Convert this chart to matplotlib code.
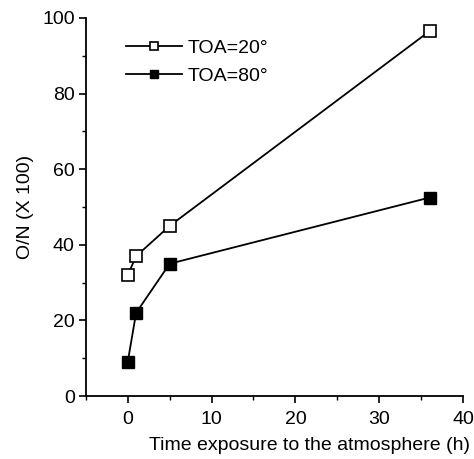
import matplotlib.pyplot as plt
from matplotlib.ticker import MultipleLocator

plt.rcParams["font.family"] = ["Liberation Sans", "DejaVu Sans"]

# exposure time (h) and O/N ratio (x100)
hours = [0, 1, 5, 36]
on_toa20 = [32, 37, 45, 96.5]
on_toa80 = [9, 22, 35, 52.5]

fig = plt.figure(figsize=(4.74, 4.59), dpi=100)
ax = fig.add_axes([0.181, 0.137, 0.796, 0.824])

ax.plot(hours, on_toa20, color="black", lw=1.3, marker="s", ms=8,
        mfc="white", mec="black", mew=1.2, label="TOA=20°")
ax.plot(hours, on_toa80, color="black", lw=1.3, marker="s", ms=8,
        mfc="black", mec="black", label="TOA=80°")

ax.set_xlim(-5, 40)
ax.set_ylim(0, 100)
ax.xaxis.set_major_locator(MultipleLocator(10))
ax.xaxis.set_minor_locator(MultipleLocator(5))
ax.yaxis.set_major_locator(MultipleLocator(20))
ax.yaxis.set_minor_locator(MultipleLocator(10))
ax.spines["top"].set_visible(False)
ax.spines["right"].set_visible(False)
for s in ("left", "bottom"):
    ax.spines[s].set_linewidth(1.3)
ax.tick_params(which="major", direction="out", length=5, width=1.2, labelsize=14, pad=3)
ax.tick_params(axis="x", which="major", pad=6)
ax.tick_params(which="minor", direction="out", length=3, width=1.0)

ax.set_xlabel("Time exposure to the atmosphere (h)", fontsize=14)
ax.xaxis.set_label_coords(0.594, -0.108)
ax.set_ylabel("O/N (X 100)", fontsize=14, labelpad=6)

ax.legend(loc="upper left", bbox_to_anchor=(0.06, 0.99), frameon=False,
          fontsize=14, handlelength=2.9, handletextpad=0.25, labelspacing=0.55,
          markerscale=0.75)

fig.savefig("out.png", dpi=100)
